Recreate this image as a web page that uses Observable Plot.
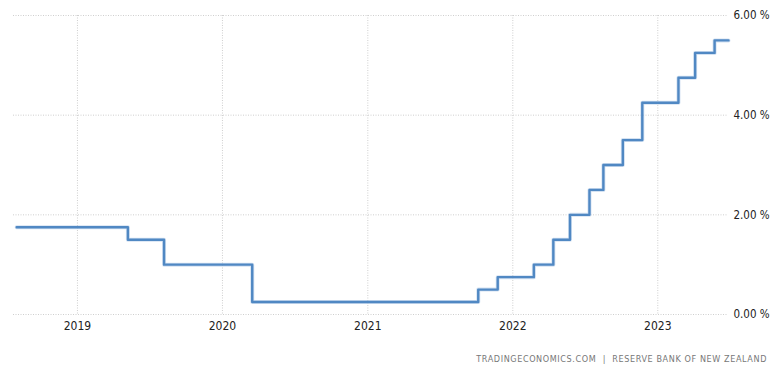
<!DOCTYPE html>
<html>
<head>
<meta charset="utf-8">
<script src="https://cdn.jsdelivr.net/npm/d3@7"></script>
<script src="https://cdn.jsdelivr.net/npm/@observablehq/plot@0.6"></script>
<style>
  html, body { margin: 0; padding: 0; background: #fff; }
  #chart { width: 780px; }
  #caption {
    width: 780px; height: 37px; box-sizing: border-box;
    padding-right: 13px; padding-top: 14px; text-align: right;
    font-family: "DejaVu Sans Condensed", "DejaVu Sans", sans-serif;
    font-size: 9px; letter-spacing: 0.6px; color: #777;
  }
</style>
</head>
<body>
<div id="chart"></div>
<div id="caption">TRADINGECONOMICS.COM&nbsp; | &nbsp;RESERVE BANK OF NEW ZEALAND</div>
<script>
// Official cash rate change dates and levels (%)
const dates = ["2018-08-01","2019-05-08","2019-08-07","2020-03-16","2021-10-06","2021-11-24",
  "2022-02-23","2022-04-13","2022-05-25","2022-07-13","2022-08-17","2022-10-05","2022-11-23",
  "2023-02-22","2023-04-05","2023-05-24","2023-06-28"];
const rates = [1.75,1.50,1.00,0.25,0.50,0.75,1.00,1.50,2.00,2.50,3.00,3.50,4.25,4.75,5.25,5.50,5.50];
const yTicks = [0, 2, 4, 6];
const yearTicks = ["2019","2020","2021","2022","2023"];

const data = dates.map((d, i) => ({date: new Date(d), rate: rates[i]}));
const xTicks = yearTicks.map(y => new Date(y + "-01-01"));

const font = "DejaVu Sans Condensed, DejaVu Sans, sans-serif";
const chart = Plot.plot({
  width: 780,
  height: 340,
  marginTop: 15,
  marginBottom: 26,
  marginLeft: 13,
  marginRight: 52,
  style: {fontFamily: font, fontSize: "12px", color: "#333", background: "#fff"},
  x: {type: "utc", domain: [new Date("2018-07-24"), new Date("2023-06-28")]},
  y: {domain: [0, 6]},
  marks: [
    Plot.gridY(yTicks, {stroke: "#cfcfcf", strokeOpacity: 1, strokeDasharray: "1,1.5"}),
    Plot.gridX(xTicks, {stroke: "#cfcfcf", strokeOpacity: 1, strokeDasharray: "1,1.5"}),
    Plot.axisY(yTicks, {anchor: "right", tickSize: 0, tickPadding: 5, label: null,
      tickFormat: d => d.toFixed(2) + " %", fontSize: 11.5, fill: "#222"}),
    Plot.axisX(xTicks, {anchor: "bottom", tickSize: 0, tickPadding: 7, label: null,
      tickFormat: d3.utcFormat("%Y"), fontSize: 12, fill: "#222"}),
    Plot.line(data, {x: "date", y: "rate", curve: "step-after",
      stroke: "#a9c6e6", strokeWidth: 4, strokeOpacity: 0.5}),
    Plot.line(data, {x: "date", y: "rate", curve: "step-after",
      stroke: "#5088c3", strokeWidth: 2.4})
  ]
});
document.getElementById("chart").appendChild(chart);
</script>
</body>
</html>
